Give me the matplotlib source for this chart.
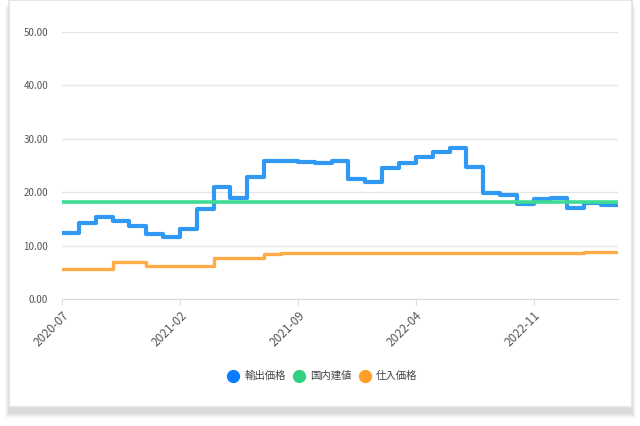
import matplotlib
matplotlib.use("Agg")
import matplotlib.pyplot as plt
from matplotlib.patches import Rectangle
from matplotlib.lines import Line2D
import numpy as np
import pandas as pd

plt.rcParams['font.family'] = ['Noto Sans CJK JP', 'DejaVu Sans']

# 月次データ (2020-07 〜 2023-04)
months = pd.period_range('2020-07', '2023-04', freq='M').strftime('%Y-%m').tolist()
export_price = [12.4, 14.3, 15.4, 14.7, 13.7, 12.2, 11.6, 13.1, 16.8, 21.0,
                18.9, 22.9, 25.9, 25.9, 25.6, 25.4, 25.9, 22.4, 22.0, 24.5,
                25.4, 26.5, 27.6, 28.2, 24.8, 19.9, 19.5, 17.8, 18.7, 19.0,
                17.0, 17.9, 17.6, 17.8]
domestic_price = [18.2] * len(months)
purchase_price = [5.6, 5.6, 5.6, 7.0, 7.0, 6.2, 6.2, 6.2, 6.2, 7.6,
                  7.6, 7.6, 8.4, 8.7, 8.7, 8.7, 8.7, 8.7, 8.7, 8.7,
                  8.7, 8.7, 8.7, 8.7, 8.7, 8.7, 8.7, 8.7, 8.7, 8.7,
                  8.7, 8.8, 8.8, 8.8]
series_names = ['輸出価格', '国内建値', '仕入価格']
line_colors = ['#2f99f4', '#3ddc92', '#ffab47']
dot_colors = ['#0a7dff', '#31d27f', '#ff9f2a']

fig = plt.figure(figsize=(6.4, 4.26), dpi=100)

# カード + 影
for i, a in enumerate([0.05, 0.04, 0.03, 0.02]):
    fig.patches.append(Rectangle((8 / 640 - i / 640, 1 - 414 / 426 - i * 1.5 / 426),
                                 (625 + 2 * i) / 640, 411 / 426,
                                 transform=fig.transFigure, facecolor='black',
                                 alpha=a, edgecolor='none', zorder=0))
fig.patches.append(Rectangle((9 / 640, 1 - 407 / 426), 623 / 640, 407 / 426,
                             transform=fig.transFigure, facecolor='white',
                             edgecolor='#e2e2e2', linewidth=1.2, zorder=1))

ax = fig.add_axes([62 / 640, 1 - 299 / 426, 556 / 640, 267 / 426])
ax.set_zorder(2)
ax.patch.set_alpha(0)

x = np.arange(len(months))
ax.step(x, export_price, where='post', color=line_colors[0], lw=3, zorder=3)
ax.step(x, domestic_price, where='post', color=line_colors[1], lw=2.6, zorder=4)
ax.step(x, purchase_price, where='post', color=line_colors[2], lw=2.4, zorder=5)

ax.set_xlim(0, len(months) - 1)
ax.set_ylim(0, 50)
ax.set_yticks([0, 10, 20, 30, 40, 50])
ax.set_yticklabels([f'{v:.2f}' for v in [0, 10, 20, 30, 40, 50]])
ax.set_xticks(x[::7])
ax.set_xticklabels([months[i] for i in x[::7]], rotation=45, ha='right',
                   rotation_mode='anchor')

ax.grid(axis='y', color='#e6e6e6', lw=1)
ax.set_axisbelow(True)
for s in ['top', 'right', 'left']:
    ax.spines[s].set_visible(False)
ax.spines['bottom'].set_color('#dcdcdc')
ax.tick_params(axis='y', length=0, pad=10, labelsize=7, labelcolor='#555555')
ax.tick_params(axis='x', length=4, color='#dcdcdc', pad=3, labelsize=8.5,
               labelcolor='#555555')

handles = [Line2D([], [], marker='o', ls='none', markersize=8.5,
                  markerfacecolor=c, markeredgecolor=c) for c in dot_colors]
fig.legend(handles, series_names, loc='center', bbox_to_anchor=(0.5, 1 - 376 / 426),
           ncol=3, frameon=False, fontsize=7.5, handletextpad=0.1,
           columnspacing=0.25, labelcolor='#444444')

fig.savefig('out.png', dpi=100, facecolor='white')
